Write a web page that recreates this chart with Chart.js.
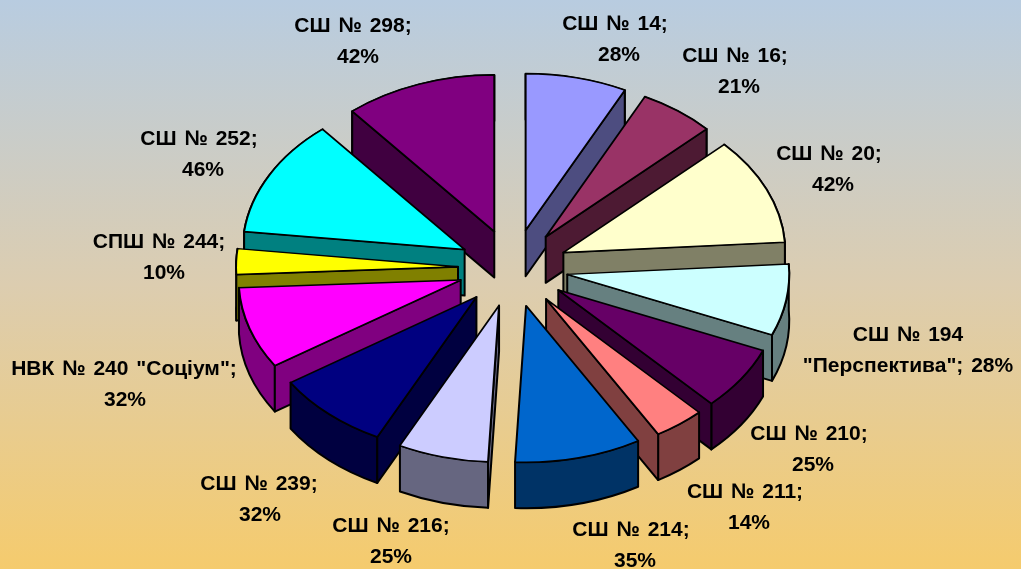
<!DOCTYPE html>
<html>
<head>
<meta charset="utf-8">
<script src="https://cdn.jsdelivr.net/npm/chart.js@4"></script>
<style>
html, body { margin: 0; padding: 0; }
canvas { display: block; }
</style>
</head>
<body>
<canvas id="canvas1" width="1021" height="569"></canvas>
<script>
const schools = ['СШ № 14', 'СШ № 16', 'СШ № 20', 'СШ № 194\n"Перспектива"', 'СШ № 210', 'СШ № 211', 'СШ № 214',
    'СШ № 216', 'СШ № 239', 'НВК № 240 "Соціум"', 'СПШ № 244', 'СШ № 252', 'СШ № 298'];
const percents = [28, 21, 42, 28, 25, 14, 35, 25, 32, 32, 10, 46, 42];
const topColors = ['#9999ff', '#993366', '#ffffcc', '#ccffff', '#660066', '#ff8080', '#0066cc',
    '#ccccff', '#000080', '#ff00ff', '#ffff00', '#00ffff', '#800080'];
const sideColors = ['#4d4d80', '#4d1a33', '#808066', '#668080', '#330033', '#804040', '#003366',
    '#666680', '#000040', '#800080', '#808000', '#008080', '#400040'];

// centre of each label line on the page
const nameSpots = [[615, 24], [735, 56], [829, 154], [908, 335], [809, 434], [745, 492], [631, 530],
    [391, 526], [259, 484], [124, 369], [159, 242], [199, 139], [353, 26]];
const percentSpots = [[619, 55], [739, 87], [833, 185], [908, 366], [813, 465], [749, 523], [635, 561],
    [391, 557], [260, 515], [125, 400], [164, 273], [203, 170], [358, 57]];

const tilt = 0.705;     // squash of the pie circle
const explode = 55;     // how far slices are pulled out
const depth = 46;       // height of the slices
const edge = 2;

function drawWalls(ctx, arc, i, ox, oy) {
    const r = arc.outerRadius;
    const a0 = arc.startAngle, a1 = arc.endAngle;
    const sx = a => ox + r * Math.cos(a);
    const sy = a => oy + tilt * r * Math.sin(a);

    ctx.fillStyle = sideColors[i];
    ctx.strokeStyle = '#000';
    ctx.lineWidth = edge;
    ctx.lineJoin = 'round';

    // rim first, the cut faces go over it
    ctx.beginPath();
    ctx.ellipse(ox, oy, r, r * tilt, 0, a0, a1);
    ctx.lineTo(sx(a1), sy(a1) + depth);
    ctx.ellipse(ox, oy + depth, r, r * tilt, 0, a1, a0, true);
    ctx.closePath();
    ctx.fill();
    ctx.stroke();

    // only the cut face that looks towards the viewer
    const faces = [];
    if (Math.cos(a0) < -0.001) faces.push(a0);
    if (Math.cos(a1) > 0.001) faces.push(a1);
    faces.forEach(a => {
        ctx.beginPath();
        ctx.moveTo(ox, oy);
        ctx.lineTo(sx(a), sy(a));
        ctx.lineTo(sx(a), sy(a) + depth);
        ctx.lineTo(ox, oy + depth);
        ctx.closePath();
        ctx.fill();
        ctx.stroke();
    });
}

const pie3d = {
    id: 'pie3d',
    beforeDraw(chart) {
        const ctx = chart.ctx;
        const g = ctx.createLinearGradient(0, 0, 0, chart.height);
        g.addColorStop(0, '#b8cce0');
        g.addColorStop(0.5, '#dccdb0');
        g.addColorStop(1, '#f5cb6d');
        ctx.fillStyle = g;
        ctx.fillRect(0, 0, chart.width, chart.height);
    },
    beforeDatasetsDraw(chart) {
        const ctx = chart.ctx;
        const arcs = chart.getDatasetMeta(0).data;
        const order = arcs.map((a, i) => i);
        const mid = i => (arcs[i].startAngle + arcs[i].endAngle) / 2;
        order.sort((p, q) => Math.sin(mid(p)) - Math.sin(mid(q)));

        order.forEach(i => {
            const arc = arcs[i];
            const dx = Math.cos(mid(i)) * explode;
            const dy = Math.sin(mid(i)) * explode;
            const ox = arc.x + dx;
            const oy = arc.y + dy * tilt;

            drawWalls(ctx, arc, i, ox, oy);

            ctx.save();
            ctx.translate(ox, oy);
            ctx.scale(1, tilt);
            ctx.translate(-arc.x, -arc.y);
            arc.draw(ctx);
            ctx.restore();
        });
        return false;
    },
    afterDraw(chart) {
        const ctx = chart.ctx;
        ctx.save();
        ctx.fillStyle = '#000';
        ctx.font = 'bold 21px "Liberation Sans"';
        ctx.wordSpacing = '2px';
        ctx.textAlign = 'center';
        ctx.textBaseline = 'middle';
        schools.forEach((name, i) => {
            let lines;
            if (name.includes('\n')) {
                lines = (name + '; ' + percents[i] + '%').split('\n');
            } else {
                lines = [name + ';', percents[i] + '%'];
            }
            ctx.fillText(lines[0], nameSpots[i][0], nameSpots[i][1]);
            ctx.fillText(lines[1], percentSpots[i][0], percentSpots[i][1]);
        });
        ctx.restore();
    }
};

new Chart(document.getElementById('canvas1'), {
    type: 'pie',
    data: {
        labels: schools,
        datasets: [{
            data: percents,
            backgroundColor: topColors,
            borderColor: '#000',
            borderWidth: edge,
            borderJoinStyle: 'round'
        }]
    },
    options: {
        responsive: false,
        animation: false,
        radius: 222,
        layout: { padding: { left: 5, bottom: 33 } },
        plugins: { legend: { display: false }, tooltip: { enabled: false } }
    },
    plugins: [pie3d]
});
</script>
</body>
</html>
